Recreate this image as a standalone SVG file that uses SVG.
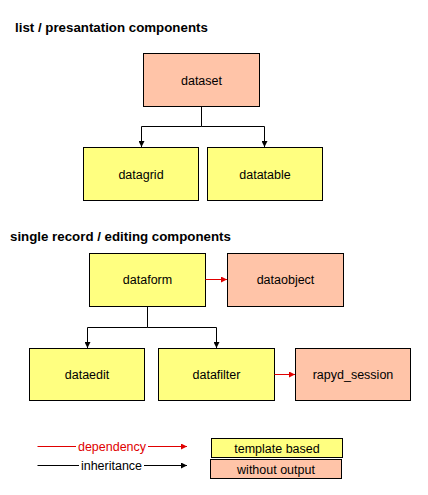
<svg xmlns="http://www.w3.org/2000/svg" width="428" height="495" viewBox="0 0 428 495">
<style>
.box{stroke:#000;stroke-width:1}
.y{fill:#ffff80}
.s{fill:#ffc4a8}
.t{font-family:"Liberation Sans",Arial,sans-serif;font-size:12.5px;text-anchor:middle;fill:#000}
.h{font-family:"Liberation Sans",Arial,sans-serif;font-size:13.3px;font-weight:bold;fill:#000}
.inh{fill:none;stroke:#000;stroke-width:1}
.dep{fill:none;stroke:#e00000;stroke-width:1}
</style>
<defs>
<marker id="ab" viewBox="0 0 6 6" refX="6" refY="3" markerWidth="6" markerHeight="6" markerUnits="userSpaceOnUse" orient="auto"><path d="M0,0 L6,3 L0,6 Z" fill="#000"/></marker>
<marker id="ar" viewBox="0 0 6 6" refX="6" refY="3" markerWidth="6" markerHeight="6" markerUnits="userSpaceOnUse" orient="auto"><path d="M0,0 L6,3 L0,6 Z" fill="#e00000"/></marker>
</defs>
<rect width="428" height="495" fill="#fff"/>
<text class="h" x="15" y="32">list / presantation components</text>
<text class="h" x="10" y="241">single record / editing components</text>
<g id="dataset"><rect class="box s" x="143.5" y="53.5" width="116" height="53"/><text class="t" x="201.5" y="84.5">dataset</text></g>
<g id="datagrid"><rect class="box y" x="83.5" y="147.5" width="115" height="53"/><text class="t" x="141" y="178.5">datagrid</text></g>
<g id="datatable"><rect class="box y" x="207.5" y="147.5" width="115" height="53"/><text class="t" x="265" y="178.5">datatable</text></g>
<g id="dataform"><rect class="box y" x="89.5" y="253.5" width="116" height="53"/><text class="t" x="147.5" y="284">dataform</text></g>
<g id="dataobject"><rect class="box s" x="227.5" y="253.5" width="116" height="53"/><text class="t" x="285.5" y="284">dataobject</text></g>
<g id="dataedit"><rect class="box y" x="29.5" y="348.5" width="115" height="52"/><text class="t" x="87" y="379">dataedit</text></g>
<g id="datafilter"><rect class="box y" x="158.5" y="348.5" width="116" height="52"/><text class="t" x="216.5" y="379">datafilter</text></g>
<g id="rapyd_session"><rect class="box s" x="295.5" y="348.5" width="115" height="52"/><text class="t" x="353" y="379">rapyd_session</text></g>
<g id="connectors">
<path class="inh" d="M201.5,106.5 V126.5 H141.5 V147" marker-end="url(#ab)"/>
<path class="inh" d="M201.5,126.5 H264.5 V147" marker-end="url(#ab)"/>
<path class="inh" d="M147.5,306.5 V327.5 H87.5 V348" marker-end="url(#ab)"/>
<path class="inh" d="M147.5,327.5 H216.5 V348" marker-end="url(#ab)"/>
<path class="dep" d="M205.5,279.5 H227" marker-end="url(#ar)"/>
<path class="dep" d="M274.5,374.5 H295" marker-end="url(#ar)"/>
</g>
<g id="legend">
<path class="dep" d="M37.5,446.5 H76 M148,446.5 H187" marker-end="url(#ar)"/>
<text class="t" x="112" y="451" style="fill:#e00000">dependency</text>
<path class="inh" d="M37.5,465.5 H79 M144,465.5 H187" marker-end="url(#ab)"/>
<text class="t" x="111.5" y="470">inheritance</text>
<g id="template_based"><rect class="box y" x="211.5" y="438.5" width="131" height="19"/><text class="t" x="277" y="452.5">template based</text></g>
<g id="without_output"><rect class="box s" x="210.5" y="459.5" width="131" height="19"/><text class="t" x="276" y="473.5">without output</text></g>
</g>
</svg>
